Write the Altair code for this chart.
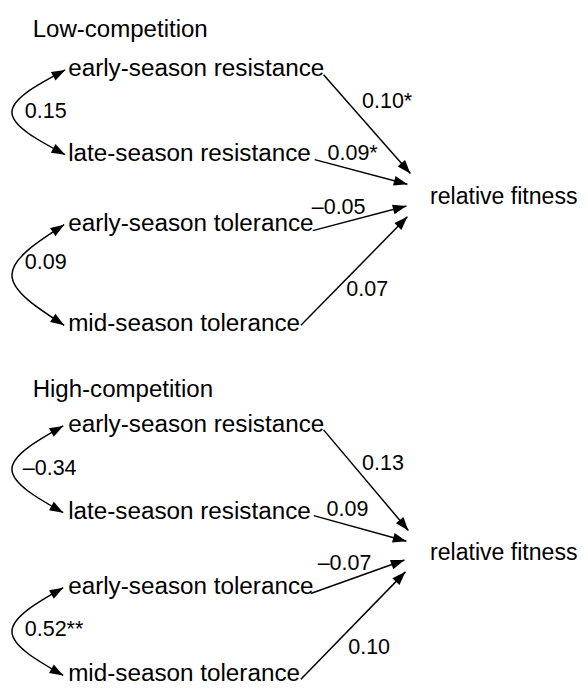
import math
import altair as alt
import pandas as pd

# ---------------- values ----------------
panel_titles = ["Low-competition", "High-competition"]
predictors = ["early-season resistance", "late-season resistance",
              "early-season tolerance", "mid-season tolerance"]
outcome = "relative fitness"
low_paths = ["0.10*", "0.09*", "\u20130.05", "0.07"]
high_paths = ["0.13", "0.09", "\u20130.07", "0.10"]
low_covs = ["0.15", "0.09"]
high_covs = ["\u20130.34", "0.52**"]

path_labels = [low_paths, high_paths]
cov_labels = [low_covs, high_covs]

# ---------------- layout (page pixels) ----------------
W, H = 579, 680
title_x = 33
title_base = [33, 398]
node_x = 69
node_base = [[72, 158, 229, 331], [433, 521, 597, 686]]
outcome_x = 436
outcome_base = [202, 563]
path_start = [[(328, 71), (319, 157), (317, 229), (305, 325)],
              [(328, 431), (318, 518), (315, 597), (305, 684)]]
path_tip = [[(416, 171), (413, 182), (412, 204), (413, 215)],
            [(414, 533), (412, 544), (410, 563), (411, 575)]]
path_label_pos = [[(367, 105), (332, 157), (316, 212), (351, 295)],
                  [(367, 472), (331, 518), (322, 573), (353, 658)]]
cov_tip = [[(66, 66, 152), (65, 223, 325)],
           [(64, 427, 515), (64, 591, 680)]]
cov_left = 12
cov_label_pos = [[(25, 115), (25, 268)], [(23, 477), (25, 640)]]

FONT = "Liberation Sans"


def ang(dx, dy):
    return math.degrees(math.atan2(dx, -dy)) % 360


titles, nodes, outs, coefs = [], [], [], []
rules, curves, heads = [], [], []
for p in range(2):
    titles.append({"x": title_x, "y": title_base[p], "t": panel_titles[p]})
    for i, name in enumerate(predictors):
        nodes.append({"x": node_x, "y": node_base[p][i], "t": name})
        (sx, sy), (tx, ty) = path_start[p][i], path_tip[p][i]
        rules.append({"x": sx, "y": sy, "x2": tx, "y2": ty})
        heads.append({"x": tx, "y": ty, "a": ang(tx - sx, ty - sy)})
        lx, ly = path_label_pos[p][i]
        coefs.append({"x": lx, "y": ly, "t": path_labels[p][i]})
    outs.append({"x": outcome_x, "y": outcome_base[p], "t": outcome})
    for k in range(2):
        x0, ya, yb = cov_tip[p][k]
        g = f"{p}-{k}"
        ym = (ya + yb) / 2
        for o, (cx, cy) in enumerate([(x0, ya), (cov_left, ym), (x0, yb)]):
            curves.append({"g": g, "o": o, "x": cx, "y": cy})
        ddx = 1.5 * (x0 - cov_left)
        ddy = (yb - ya) / 2
        heads.append({"x": x0, "y": ya, "a": ang(ddx, -ddy)})
        heads.append({"x": x0, "y": yb, "a": ang(ddx, ddy)})
        lx, ly = cov_label_pos[p][k]
        coefs.append({"x": lx, "y": ly, "t": cov_labels[p][k]})

xs = alt.Scale(domain=[8, 8 + W], nice=False, zero=False)
ys = alt.Scale(domain=[8 + H, 8], nice=False, zero=False)


def X(f="x"):
    return alt.X(f"{f}:Q", scale=xs, axis=None)


def Y(f="y"):
    return alt.Y(f"{f}:Q", scale=ys, axis=None)


def text_layer(rows, size):
    return alt.Chart(pd.DataFrame(rows)).mark_text(
        align="left", baseline="alphabetic", font=FONT, fontSize=size, color="black"
    ).encode(x=X(), y=Y(), text="t:N")


rule_layer = alt.Chart(pd.DataFrame(rules)).mark_rule(
    color="black", strokeWidth=1.5
).encode(x=X(), y=Y(), x2="x2:Q", y2="y2:Q")

curve_layer = alt.Chart(pd.DataFrame(curves)).mark_line(
    color="black", strokeWidth=1.5, interpolate="natural"
).encode(x=X(), y=Y(), detail="g:N", order="o:Q")

head_layer = alt.Chart(pd.DataFrame(heads)).mark_point(
    shape="M0,0L-0.72,2L0.72,2Z", filled=True, size=190, color="black", opacity=1,
    strokeWidth=0
).encode(x=X(), y=Y(), angle=alt.Angle("a:Q", scale=None))

chart = alt.layer(
    rule_layer, curve_layer, head_layer,
    text_layer(titles, 24.4), text_layer(nodes, 24.6), text_layer(outs, 23.4),
    text_layer(coefs, 21.8),
).properties(
    width=W, height=H, padding=0,
    autosize=alt.AutoSizeParams(type="none"),
).configure_view(stroke=None)

chart.save("out.html", embed_options={"renderer": "svg", "actions": False})
